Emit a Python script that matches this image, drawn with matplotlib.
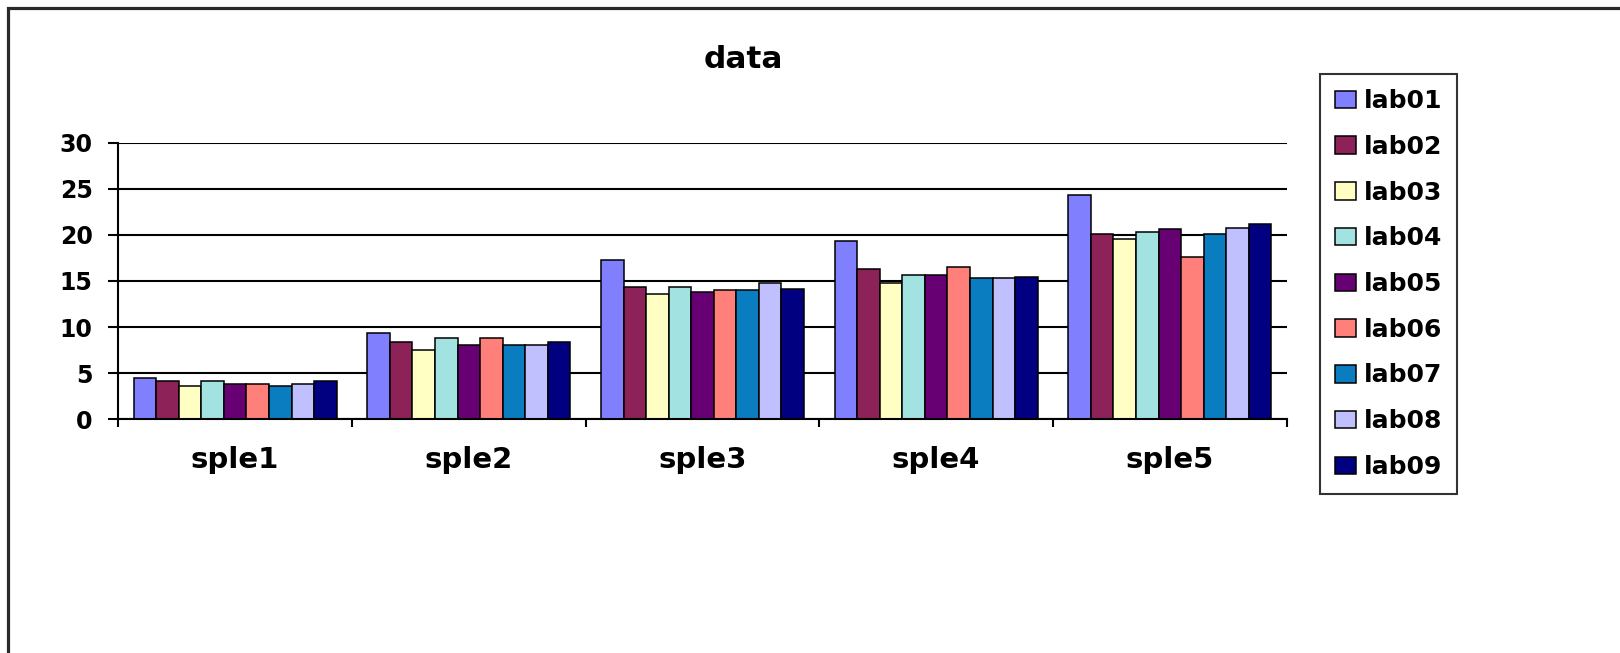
import numpy as np
import matplotlib
matplotlib.use("Agg")
import matplotlib.pyplot as plt
from matplotlib.patches import Rectangle
from matplotlib.ticker import FixedLocator

# Samples on the x axis and one series per lab
samples = ["sple1", "sple2", "sple3", "sple4", "sple5"]
labs = ["lab01", "lab02", "lab03", "lab04", "lab05", "lab06", "lab07", "lab08", "lab09"]

lab01 = [4.45, 9.40, 17.25, 19.30, 24.30]
lab02 = [4.15, 8.40, 14.35, 16.25, 20.05]
lab03 = [3.60, 7.55, 13.55, 14.80, 19.55]
lab04 = [4.10, 8.85, 14.30, 15.60, 20.35]
lab05 = [3.85, 8.05, 13.80, 15.65, 20.65]
lab06 = [3.85, 8.85, 14.00, 16.50, 17.55]
lab07 = [3.60, 8.05, 14.00, 15.35, 20.05]
lab08 = [3.80, 8.05, 14.75, 15.35, 20.80]
lab09 = [4.20, 8.40, 14.15, 15.45, 21.15]
series = [lab01, lab02, lab03, lab04, lab05, lab06, lab07, lab08, lab09]

colors = ["#8080ff", "#8c2258", "#ffffc4", "#a2e2e0", "#660073",
          "#ff7f7a", "#0a7cc0", "#c0c0ff", "#000080"]

y_ticks = [0, 5, 10, 15, 20, 25, 30]

W, H = 1620, 653
fig = plt.figure(figsize=(W / 100, H / 100), dpi=100)
fig.patch.set_facecolor("white")

# chart-area frame (runs off the right and bottom edges)
fig.patches.append(Rectangle((8 / W, -0.1), 1.2, 1.1 - 8 / H,
                             transform=fig.transFigure, fill=False,
                             edgecolor="#2a2a2a", linewidth=2.3, zorder=0))

left, right, top, bottom = 118.3, 1286.7, 142.7, 419.3
ax = fig.add_axes([left / W, 1 - bottom / H, (right - left) / W, (bottom - top) / H])

font = "DejaVu Sans"
n = len(series)
group_width = 0.869
bw = group_width / n
x = np.arange(len(samples))
for i, (vals, col, lab) in enumerate(zip(series, colors, labs)):
    ax.bar(x + (i - (n - 1) / 2) * bw, vals, width=bw, color=col,
           edgecolor="black", linewidth=1.1, label=lab, zorder=3)

ax.set_xlim(-0.5, len(samples) - 0.5)
ax.set_ylim(0, 30)

for s in ("top", "right"):
    ax.spines[s].set_visible(False)
for s in ("left", "bottom"):
    ax.spines[s].set_linewidth(1.5)
    ax.spines[s].set_color("black")
    ax.spines[s].set_zorder(4)

ax.set_yticks(y_ticks)
ax.set_yticklabels([str(v) for v in y_ticks], fontsize=17, fontweight="bold",
                   family=font)
ax.tick_params(axis="y", direction="out", length=7.5, width=1.5, pad=11)
ax.yaxis.grid(True, color="black", linewidth=1.5, zorder=1)
ax.set_axisbelow(True)

ax.set_xticks(x)
ax.set_xticklabels(samples, fontsize=21, fontweight="bold", family=font)
ax.tick_params(axis="x", which="major", length=0, pad=19.5)
ax.xaxis.set_minor_locator(FixedLocator(np.arange(-0.5, len(samples), 1.0)))
ax.tick_params(axis="x", which="minor", direction="out", length=6, width=1.5)

fig.text(743 / W, 1 - 59 / H, "data", ha="center", va="center",
         fontsize=22.5, fontweight="bold", family=font)

leg = ax.legend(loc="upper left", bbox_to_anchor=(1320 / W, 1 - 74 / H),
                bbox_transform=fig.transFigure, borderaxespad=0,
                prop={"family": font, "weight": "bold", "size": 18},
                frameon=True, fancybox=False, edgecolor="black",
                handlelength=0.85, handleheight=0.7, handletextpad=0.3,
                labelspacing=0.87, borderpad=0.6)
leg.get_frame().set_linewidth(1.5)

fig.savefig("out.png", dpi=100, facecolor="white")
